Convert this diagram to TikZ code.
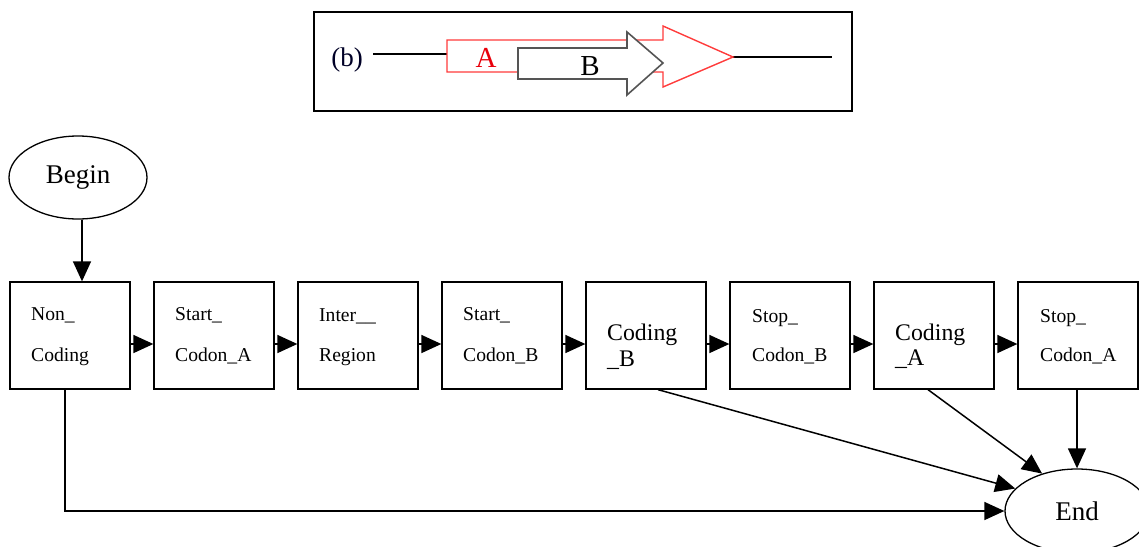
\documentclass[tikz,border=0pt]{standalone}
\usepackage{fontspec}
\setmainfont{Liberation Serif}
\usetikzlibrary{arrows.meta,shapes.geometric}

\definecolor{geneA}{HTML}{FF3B3B}
\definecolor{geneAtext}{HTML}{E8000B}
\definecolor{geneB}{HTML}{555555}

\tikzset{
  statebox/.style={draw, line width=1.3pt, minimum width=120pt, minimum height=107pt, inner sep=0pt},
  terminal/.style={draw, ellipse, line width=1.3pt, inner sep=0pt},
  lbl/.style={anchor=base west, inner sep=0pt, font=\fontsize{19.6}{23}\selectfont},
  biglbl/.style={anchor=base west, inner sep=0pt, font=\fontsize{23.8}{28}\selectfont},
  arr/.style={line width=1.5pt, -{Triangle[length=20pt,width=18pt]}},
}

\begin{document}
\begin{tikzpicture}[x=1pt,y=-1pt]
\useasboundingbox (0,0) rectangle (1139,546);
\clip (0,0) rectangle (1139,546);

% ---- inset: overlapping genes A and B ----
\draw[line width=2.5pt] (314,12) rectangle (852,111);
\node[anchor=base, inner sep=0pt, font=\fontsize{27}{30}\selectfont, text=black!85!blue] (blab) at (347,66) {(b)};
\draw[line width=1.4pt] (373,54) -- (447,54);
\draw[line width=1.4pt] (733,57) -- (832,57);
\draw[geneA, line width=1.4pt, line join=miter]
  (447,40) -- (663,40) -- (663,26) -- (733,57) -- (663,87) -- (663,72) -- (447,72) -- cycle;
\node[anchor=base, inner sep=0pt, font=\fontsize{29}{32}\selectfont, text=geneAtext] (alab) at (486,67) {A};
\draw[geneB, fill=white, line width=1.6pt, line join=miter]
  (518,48) -- (627,48) -- (627,32) -- (663,63) -- (627,95) -- (627,79) -- (518,79) -- cycle;
\node[anchor=base, inner sep=0pt, font=\fontsize{29}{32}\selectfont] (blab2) at (590,75) {B};

% ---- state chain ----
\node[terminal, minimum width=138pt, minimum height=83pt, font=\fontsize{27}{30}\selectfont] (beg) at (78,177.5) {Begin};
\node[terminal, minimum width=144pt, minimum height=84pt, font=\fontsize{27}{30}\selectfont] (end) at (1077,511) {End};

\node[statebox] (nc) at (70,335.5) {};
\node[statebox] (sca) at (214,335.5) {};
\node[statebox] (ir) at (358,335.5) {};
\node[statebox] (scb) at (502,335.5) {};
\node[statebox] (cb) at (646,335.5) {};
\node[statebox] (spb) at (790,335.5) {};
\node[statebox] (ca) at (934,335.5) {};
\node[statebox] (spa) at (1078,335.5) {};

\node[lbl] (nc1) at (31,320) {Non\_};
\node[lbl] (nc2) at (31,361) {Coding};
\node[lbl] (sca1) at (175,320) {Start\_};
\node[lbl] (sca2) at (175,361) {Codon\_A};
\node[lbl] (ir1) at (319,321) {Inter\_\_};
\node[lbl] (ir2) at (319,361) {Region};
\node[lbl] (scb1) at (463,320) {Start\_};
\node[lbl] (scb2) at (463,361) {Codon\_B};
\node[biglbl] (cb1) at (607,340) {Coding};
\node[biglbl] (cb2) at (607,366) {\_B};
\node[lbl] (spb1) at (752,322) {Stop\_};
\node[lbl] (spb2) at (752,361) {Codon\_B};
\node[biglbl] (ca1) at (895,340) {Coding};
\node[biglbl] (ca2) at (895,365) {\_A};
\node[lbl] (spa1) at (1040,322) {Stop\_};
\node[lbl] (spa2) at (1040,361) {Codon\_A};

% transitions
\draw[arr] ([xshift=4pt]beg.south) -- ([xshift=4pt]beg.south |- nc.north);
\foreach \a/\b in {nc/sca, sca/ir, ir/scb, scb/cb, cb/spb, spb/ca, ca/spa}
  \draw[arr] ([yshift=-8.5pt]\a.east) -- ([yshift=-8.5pt]\b.west);

\draw[arr] ([xshift=-5pt]nc.south) |- (end.west);
\draw[arr] ([xshift=12pt]cb.south) -- (end.160);
\draw[arr] ([xshift=-6pt]ca.south) -- (end.133);
\draw[arr] (spa.south -| end.north) -- (end.north);
\end{tikzpicture}
\end{document}
